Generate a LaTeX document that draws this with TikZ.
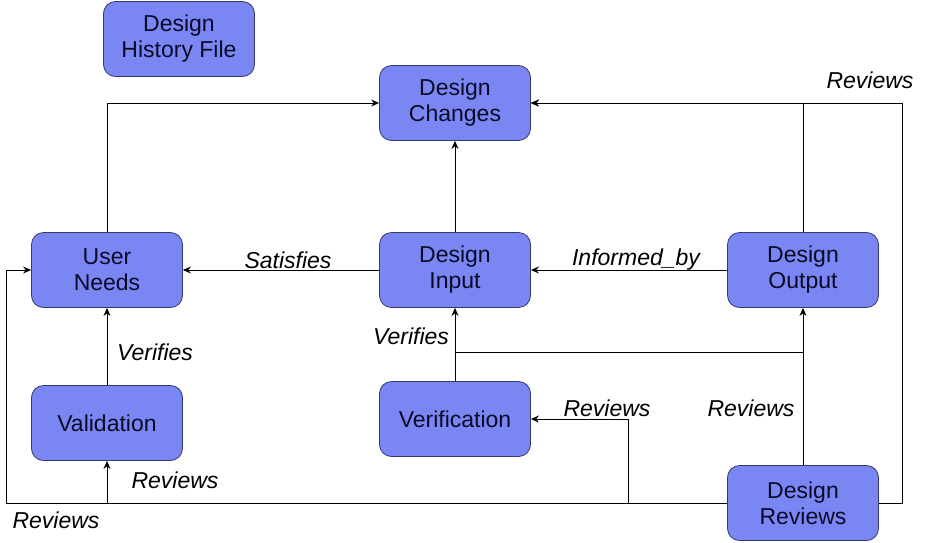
\documentclass[tikz,border=0pt]{standalone}
\usepackage{fontspec}
\setmainfont{Liberation Sans}
\usetikzlibrary{arrows.meta}
\definecolor{boxfill}{RGB}{122,134,242}
\definecolor{boxline}{RGB}{52,58,110}
\definecolor{boxtext}{RGB}{10,10,40}

\begin{document}
\begin{tikzpicture}[
  x=1pt,
  y=-1pt,
  box/.style={
    rectangle,
    rounded corners=12pt,
    draw=boxline,
    fill=boxfill,
    line width=0.8pt,
    minimum width=151pt,
    minimum height=75pt,
    inner sep=0pt,
    align=center,
    text=boxtext,
    font=\fontsize{23}{26}\selectfont
  },
  edge/.style={
    -{Stealth[length=8pt,width=7pt]},
    line width=1pt
  },
  line/.style={
    line width=1pt
  },
  label/.style={
    inner sep=1pt,
    font=\fontsize{23}{26}\selectfont\itshape
  }
]

\path[use as bounding box] (0,0) rectangle (926,542);

\node[box] (dhf) at (179,39)  {Design\\History File};
\node[box] (dc)  at (455,103) {Design\\Changes};
\node[box] (un)  at (107,270) {User\\Needs};
\node[box] (di)  at (455,270) {Design\\Input};
\node[box] (do)  at (803,270) {Design\\Output};
\node[box] (val) at (107,423) {Validation};
\node[box] (ver) at (455,419) {Verification};
\node[box] (dr)  at (803,503) {Design\\Reviews};

\draw[edge] (un.north) |- (dc.west);
\draw[edge] (di) -- (dc);
\draw[edge] (do.north) |- (dc.east);
\draw[edge] (dr.east) -- ++(24,0) |- (dc.east);
\draw[edge] (di) -- (un);
\draw[edge] (do) -- (di);
\draw[edge] (val) -- (un);
\draw[edge] (ver) -- (di);
\draw[edge] (dr) -- (do);
\draw[line] (di.south |- 0,352) -- (do.south |- 0,352);
\draw[edge] (dr.west) -- ++(-99,0) |- (ver.east);
\draw[edge] (dr.west) -- ++(-721,0) |- (un.west);
\draw[edge] (val.south |- dr.west) -- (val.south);

\node[label] at (870,80)  {Reviews};
\node[label] at (288,260) {Satisfies};
\node[label] at (636,260) {Informed\_by};
\node[label] at (155,352) {Verifies};
\node[label] at (411,336) {Verifies};
\node[label] at (607,408) {Reviews};
\node[label] at (751,408) {Reviews};
\node[label] at (175,480) {Reviews};
\node[label] at (56,520)  {Reviews};

\end{tikzpicture}
\end{document}
